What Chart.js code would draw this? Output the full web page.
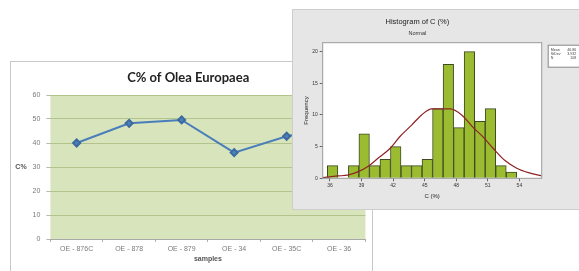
<!DOCTYPE html>
<html>
<head>
<meta charset="utf-8">
<script src="https://cdn.jsdelivr.net/npm/chart.js@4.4.1/dist/chart.umd.min.js"></script>
<style>
  html, body { margin: 0; padding: 0; background: #fff; width: 579px; height: 271px; overflow: hidden; }
  #lineBox { position: absolute; left: 10px; top: 61px; width: 361px; height: 212px; border: 1px solid #c8c8c8; background: #fff; }
  #histBox { position: absolute; left: 292px; top: 9px; width: 292px; height: 199px; border: 1px solid #cdcdcd; background: #e6e6e6; }
  canvas { display: block; }
</style>
</head>
<body>
<div id="lineBox"><canvas id="lineChart" width="361" height="209"></canvas></div>
<div id="histBox"><canvas id="histChart" width="286" height="199"></canvas></div>
<script>
// line chart data
const samples = ['OE - 876C', 'OE - 878', 'OE - 879', 'OE - 34', 'OE - 35C', 'OE - 36'];
const carbonPct = [40, 48.2, 49.6, 36, 42.8, 47];

// histogram data
const binCenters = [36.25, 37.25, 38.25, 39.25, 40.25, 41.25, 42.25, 43.25, 44.25,
                    45.25, 46.25, 47.25, 48.25, 49.25, 50.25, 51.25, 52.25, 53.25];
const binCounts = [2, 0, 2, 7, 2, 3, 5, 2, 2, 3, 11, 18, 8, 20, 9, 11, 2, 1];
const fitX = [35.31, 36.73, 37.68, 38.69, 39.64, 40.59, 41.70, 42.65, 43.76, 44.71,
              45.67, 47.41, 48.52, 49.62, 50.57, 51.52, 52.63, 53.75, 54.85, 56.12];
const fitY = [0.1, 0.37, 0.5, 1.05, 1.9, 3.2, 4.7, 6.6, 8.4, 10,
              10.95, 10.95, 10, 8, 6.5, 4.7, 2.8, 1.6, 0.9, 0.37];
const histXTicks = [36, 39, 42, 45, 48, 51, 54];
const histYTicks = [0, 5, 10, 15, 20];
const statLabels = ['Mean', 'StDev', 'N'];
const statValues = ['46.86', '3.932', '108'];

document.addEventListener('DOMContentLoaded', () => {

  const greenArea = {
    id: 'greenArea',
    beforeDraw(chart) {
      const { ctx, chartArea: a } = chart;
      ctx.save();
      ctx.fillStyle = '#d7e4bc';
      ctx.fillRect(a.left, a.top, a.right - a.left, a.bottom - a.top);
      ctx.restore();
    },
    afterDraw(chart) {
      const { ctx } = chart;
      const y = chart.scales.y.getPixelForValue(30);
      ctx.save();
      ctx.font = 'bold 7px "Liberation Sans"';
      ctx.fillStyle = '#555';
      ctx.textAlign = 'center';
      ctx.textBaseline = 'middle';
      ctx.fillText('C%', 10, y);
      ctx.restore();
    }
  };

  new Chart(document.getElementById('lineChart'), {
    type: 'line',
    data: {
      labels: samples,
      datasets: [{
        data: carbonPct,
        borderColor: '#4a7ebb',
        borderWidth: 2,
        pointStyle: 'rectRot',
        pointRadius: 3.5,
        pointBackgroundColor: '#4f81bd',
        pointBorderColor: '#3c6a9e',
        tension: 0
      }]
    },
    options: {
      responsive: false,
      animation: false,
      layout: { padding: { left: 0, right: 6.6, top: 0, bottom: 0 } },
      plugins: {
        legend: { display: false },
        tooltip: { enabled: false },
        title: {
          display: true,
          text: 'C% of Olea Europaea',
          color: '#222',
          font: { family: 'Lato', size: 13, weight: 'bold' },
          padding: { top: 8.2, bottom: 9.2 }
        }
      },
      scales: {
        x: {
          offset: true,
          grid: { display: true, drawOnChartArea: false, offset: true, tickLength: 3, color: '#b0b0b0' },
          border: { display: true, color: '#a9a9a9' },
          ticks: { color: '#7a7a7a', font: { family: 'Liberation Sans', size: 7 }, padding: 3, maxRotation: 0 },
          title: {
            display: true, text: 'samples', color: '#555',
            font: { family: 'Liberation Sans', size: 7, weight: 'bold' },
            padding: { top: 0, bottom: 7.8 }
          },
          afterFit(scale) { scale.height = 32; }
        },
        y: {
          min: 0, max: 60,
          ticks: { stepSize: 10, color: '#7a7a7a', font: { family: 'Liberation Sans', size: 7 }, padding: 6 },
          grid: { color: '#b2c48c', tickColor: '#b8b8b8', tickLength: 4 },
          border: { display: false },
          afterFit(scale) { scale.width = 39.4; }
        }
      }
    },
    plugins: [greenArea]
  });

  const histFrame = {
    id: 'histFrame',
    beforeDraw(chart) {
      const { ctx, chartArea: a } = chart;
      ctx.save();
      ctx.fillStyle = '#ffffff';
      ctx.fillRect(a.left, a.top, a.right - a.left, a.bottom - a.top);
      ctx.restore();
    },
    afterDraw(chart) {
      const { ctx, chartArea: a } = chart;
      ctx.save();
      ctx.strokeStyle = '#9a9a9a';
      ctx.lineWidth = 1;
      ctx.strokeRect(a.left, a.top, a.right - a.left, a.bottom - a.top);
      // stats box
      const bx = a.right + 6.5, by = a.top + 2.5;
      ctx.fillStyle = '#fff';
      ctx.fillRect(bx, by, 40, 22);
      ctx.strokeStyle = '#888';
      ctx.strokeRect(bx, by, 40, 22);
      ctx.fillStyle = '#444';
      ctx.font = '3.6px "Liberation Sans"';
      ctx.textBaseline = 'middle';
      statLabels.forEach((lab, i) => {
        ctx.textAlign = 'left';
        ctx.fillText(lab, bx + 2.5, by + 5 + i * 3.7);
        ctx.textAlign = 'right';
        ctx.fillText(statValues[i], bx + 28, by + 5 + i * 3.7);
      });
      ctx.restore();
    }
  };

  new Chart(document.getElementById('histChart'), {
    type: 'bar',
    data: {
      datasets: [{
        type: 'line',
        data: fitX.map((x, i) => ({ x: x, y: fitY[i] })),
        borderColor: '#8e2424',
        borderWidth: 1.2,
        pointRadius: 0,
        cubicInterpolationMode: 'monotone',
        order: 0
      }, {
        data: binCenters.map((x, i) => ({ x: x, y: binCounts[i] })),
        backgroundColor: '#9bbb31',
        borderColor: '#3d4a22',
        borderWidth: 1,
        barPercentage: 1,
        categoryPercentage: 1,
        order: 1
      }]
    },
    options: {
      responsive: false,
      animation: false,
      layout: { padding: { left: 0, right: 37.3, top: 0, bottom: 0 } },
      plugins: {
        legend: { display: false },
        tooltip: { enabled: false },
        title: {
          display: true,
          text: 'Histogram of C (%)',
          color: '#222',
          font: { family: 'Liberation Sans', size: 7.5, weight: 'normal' },
          padding: { top: 7.5, bottom: 0 }
        },
        subtitle: {
          display: true,
          text: 'Normal',
          color: '#333',
          font: { family: 'Liberation Sans', size: 5.5 },
          padding: { top: 3.2, bottom: 6.4 }
        }
      },
      scales: {
        x: {
          type: 'linear',
          offset: false,
          min: 35.31, max: 56.12,
          afterBuildTicks(scale) { scale.ticks = histXTicks.map(v => ({ value: v })); },
          grid: { display: true, drawOnChartArea: false, offset: false, tickLength: 3, color: '#666' },
          border: { display: false },
          ticks: { color: '#333', font: { family: 'Liberation Sans', size: 5 }, padding: 1, maxRotation: 0 },
          title: {
            display: true, text: 'C (%)', color: '#222',
            font: { family: 'Liberation Sans', size: 6 },
            padding: { top: 0, bottom: 9.4 }
          },
          afterFit(scale) { scale.height = 30.7; }
        },
        y: {
          min: 0, max: 21.4,
          afterBuildTicks(scale) { scale.ticks = histYTicks.map(v => ({ value: v })); },
          grid: { display: true, drawOnChartArea: false, tickLength: 3, color: '#666' },
          border: { display: false },
          ticks: { color: '#333', font: { family: 'Liberation Sans', size: 5 }, padding: 2 },
          title: {
            display: true, text: 'Frequency', color: '#222',
            font: { family: 'Liberation Sans', size: 6 },
            padding: { top: 9.4, bottom: 0 }
          },
          afterFit(scale) { scale.width = 29.7; }
        }
      }
    },
    plugins: [histFrame]
  });
});
</script>
</body>
</html>
